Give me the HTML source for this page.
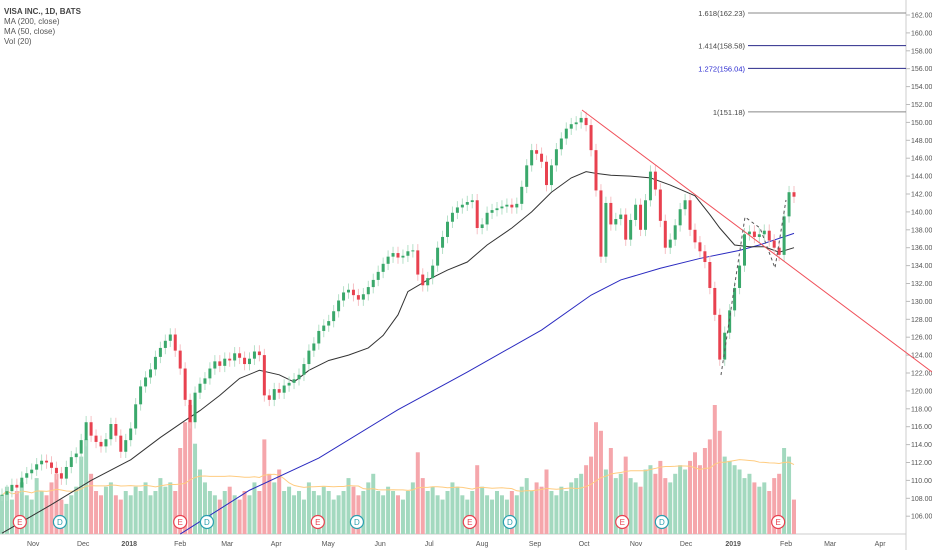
<!DOCTYPE html>
<html><head><meta charset="utf-8"><style>
html,body{margin:0;padding:0;background:#fff;overflow:hidden}
svg{display:block;font-family:"Liberation Sans",sans-serif}
</style></head><body>
<svg id="c" width="932" height="550" viewBox="0 0 932 550">
<g id="legend">
<text x="4" y="14" font-size="8" fill="#444" font-weight="bold">VISA INC., 1D, BATS</text>
<text x="4" y="24" font-size="8" fill="#555">MA (200, close)</text>
<text x="4" y="34" font-size="8" fill="#555">MA (50, close)</text>
<text x="4" y="44" font-size="8" fill="#555">Vol (20)</text>
</g>
</svg>
<script>
const closes=[108.4,108.8,109.5,109.2,110.3,110.8,111.2,111.8,112.2,112.0,111.4,110.8,110.2,111.5,112.6,113.0,114.5,116.5,115.0,114.3,113.8,114.6,116.3,115.0,113.2,114.5,115.8,118.5,120.5,121.5,122.4,123.8,124.8,125.6,126.3,124.5,122.5,119.0,116.5,119.8,120.8,121.4,122.5,123.3,122.8,123.6,123.4,124.2,123.7,123.0,123.6,124.4,124.0,119.5,119.0,120.2,119.8,120.6,120.9,121.3,121.8,123.0,124.5,125.3,126.7,127.3,127.8,128.9,130.1,131.0,131.3,130.7,130.2,130.8,131.6,132.4,133.3,134.2,135.0,135.4,134.9,135.1,135.6,135.7,133.0,131.8,132.6,134.0,136.0,137.2,138.9,139.9,140.5,140.8,141.1,141.3,138.2,138.6,139.9,140.2,140.4,140.6,140.8,140.5,140.9,142.8,145.2,146.9,146.5,145.6,143.0,145.2,147.0,148.2,149.3,149.8,150.0,150.5,149.7,146.9,142.4,135.0,141.0,138.6,139.2,139.7,136.9,139.1,140.8,138.0,141.3,144.5,142.5,139.0,136.0,136.9,138.5,140.3,141.3,138.0,136.6,135.6,134.4,131.5,128.5,123.5,126.5,129.0,131.5,134.0,137.5,137.8,137.2,137.5,137.9,136.8,136.0,135.2,139.5,142.2,141.7];
const volumes=[9,11,8,10,12,9,8,13,10,9,12,14,8,7,9,11,18,22,14,10,9,11,12,9,8,10,9,11,10,12,9,10,13,11,12,10,20,26,30,21,15,12,10,9,8,10,11,9,8,10,9,12,10,22,14,12,15,10,11,9,10,8,12,10,9,11,10,8,9,10,13,11,9,10,12,14,10,9,11,10,9,8,10,12,19,13,10,11,9,8,10,12,11,9,8,10,16,11,9,8,10,9,8,10,9,11,13,10,12,11,15,10,9,11,10,12,13,14,16,18,26,24,15,20,13,14,18,13,12,11,15,16,14,17,13,12,14,16,15,17,19,16,20,22,30,24,18,17,16,15,13,14,12,11,12,10,13,14,20,18,8];
const ma50Idx=[0,10,18,26,32,37,40,44,48,52,56,59,62,66,70,74,77,80,82,86,90,94,98,103,107,111,115,118,120,123,127,131,135,140,143,145,148,151,154,157,160];
const ma50Val=[104.1,107.3,110.0,112.3,114.8,116.7,117.8,119.5,121.4,122.3,121.8,121.0,122.3,123.4,124.0,124.8,126.2,128.5,131.1,132.4,133.5,134.4,136.3,138.2,140.0,142.2,143.8,144.5,144.3,144.1,144.0,143.8,143.0,141.8,139.7,138.2,136.3,136.1,136.1,135.5,136.0];
const ma200Idx=[36,50,64,80,94,109,119,125,133,141,149,153,160];
const ma200Val=[104.0,108.9,112.5,117.9,122.1,126.8,130.7,132.4,133.7,134.8,135.7,136.3,137.6];
const priceTicks=[106,108,110,112,114,116,118,120,122,124,126,128,130,132,134,136,138,140,142,144,146,148,150,152,154,156,158,160,162];
const monthLabels=["Nov","Dec","2018","Feb","Mar","Apr","May","Jun","Jul","Aug","Sep","Oct","Nov","Dec","2019","Feb","Mar","Apr"];
const monthIdx=[6.3,16.4,25.7,36,45.5,55.4,65.9,76.4,86.3,97,107.7,117.6,128.1,138.2,147.7,158.4,167.3,177.4];
const earnIdx=[3.6,36,63.8,94.5,125.3,156.8];
const divIdx=[11.7,41.4,71.7,102.6,133.3];
const fibLevels=[1.618,1.414,1.272,1];
const fibPrices=[162.23,158.58,156.04,151.18];

const svg=document.getElementById('c');const NS='http://www.w3.org/2000/svg';
const X=i=>2+i*4.95;
const Y=p=>15+(162-p)*8.95;
const VY=v=>534-v*4.3;
function mk(t,a,p){const e=document.createElementNS(NS,t);for(const k in a)e.setAttribute(k,a[k]);(p||svg).appendChild(e);return e;}
// axes
const ax=mk('line',{x1:906,y1:0,x2:906,y2:550,stroke:'#ccc'});


const bx=mk('line',{x1:0,y1:534,x2:906,y2:534,stroke:'#ccc'});


priceTicks.forEach(p=>{mk('line',{x1:906,y1:Y(p),x2:910,y2:Y(p),stroke:'#bbb'});
const t=mk('text',{x:911,y:Y(p)+2.5,'font-size':7,fill:'#555'});t.textContent=p.toFixed(2);

});
monthLabels.forEach((m,k)=>{const t=mk('text',{x:X(monthIdx[k]),y:546,'font-size':7,fill:'#555','text-anchor':'middle','font-weight':m.length==4?'bold':'normal'});t.textContent=m;

});
// volume
closes.forEach((c,i)=>{const o=i?closes[i-1]:c;const up=c>=o;
const r=mk('rect',{x:X(i)-2,y:VY(volumes[i]),width:4,height:volumes[i]*4.3,fill:up?'#a3d9bf':'#f5a6ab'});

});
let vp=[];volumes.forEach((v,i)=>{const s=volumes.slice(Math.max(0,i-19),i+1);const a=s.reduce((x,y)=>x+y,0)/s.length;vp.push(X(i)+','+VY(a));});
const vm=mk('polyline',{points:vp.join(' '),fill:'none',stroke:'#ffcc80','stroke-width':1});


// MAs
const m2=mk('polyline',{points:ma200Idx.map((x,k)=>X(x)+','+Y(ma200Val[k])).join(' '),fill:'none',stroke:'#2a2ac0','stroke-width':1});


const m5=mk('polyline',{points:ma50Idx.map((x,k)=>X(x)+','+Y(ma50Val[k])).join(' '),fill:'none',stroke:'#333','stroke-width':1});


// candles
closes.forEach((c,i)=>{const o=i?closes[i-1]:c;const up=c>=o;const col=up?'#3aa86b':'#e8414f';
const hi=Math.max(o,c)+0.7,lo=Math.min(o,c)-0.7;
const w=mk('line',{x1:X(i),y1:Y(hi),x2:X(i),y2:Y(lo),stroke:up?'#b5e0c8':'#f6c0c4','stroke-width':1});


const b=mk('rect',{x:X(i)-1.5,y:Y(Math.max(o,c)),width:3,height:Math.max(1,Math.abs(c-o)*8.95),fill:col});

});
// trendline and dashed zigzag
const tl=mk('line',{x1:582,y1:110,x2:932,y2:372,stroke:'#f0505a','stroke-width':1});


const zz=mk('polyline',{points:'721,375 745,217 760,228 775,268 786,200',fill:'none',stroke:'#555','stroke-width':1,'stroke-dasharray':'3,3'});


// fib
fibLevels.forEach((f,k)=>{const y=Y(fibPrices[k]);const blue=k==1||k==2;
const l=mk('line',{x1:748,y1:y,x2:906,y2:y,stroke:blue?'#2a2a8a':'#888','stroke-width':1});


const t=mk('text',{x:745,y:y+3,'font-size':7.5,'text-anchor':'end',fill:k==2?'#2a2ad0':'#444'});
t.textContent=f+'('+fibPrices[k].toFixed(2)+')';

});
// events
function ev(i,l,col){const g=mk('g',{});


mk('circle',{cx:X(i),cy:522,r:6.5,fill:'#fff',stroke:col,'stroke-width':1.2},g);
const t=mk('text',{x:X(i),y:525,'font-size':8,'text-anchor':'middle',fill:col},g);t.textContent=l;}
earnIdx.forEach(i=>ev(i,'E','#e8414f'));
divIdx.forEach(i=>ev(i,'D','#2a9fb0'));
</script>
</body></html>
